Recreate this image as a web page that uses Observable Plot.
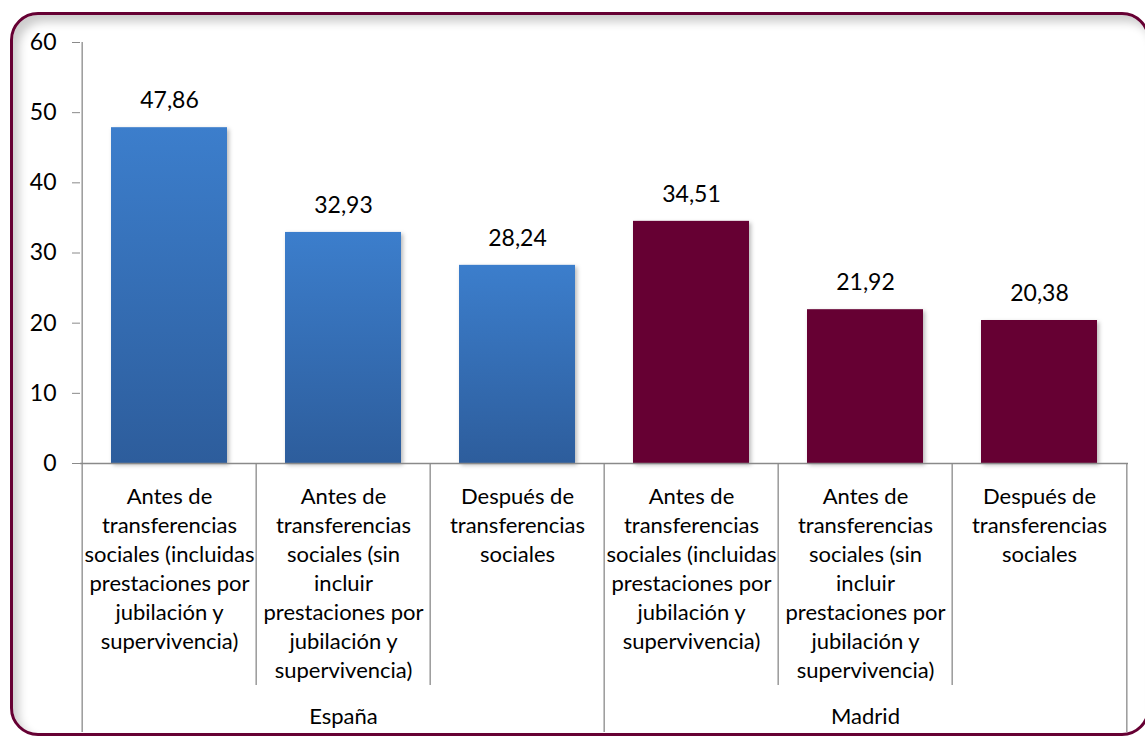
<!DOCTYPE html>
<html>
<head>
<meta charset="utf-8">
<script src="https://cdn.jsdelivr.net/npm/d3@7"></script>
<script src="https://cdn.jsdelivr.net/npm/@observablehq/plot@0.6"></script>
<style>
  html, body { margin: 0; padding: 0; background: #fff; }
  body { width: 1145px; height: 736px; overflow: hidden; position: relative; font-family: Lato, sans-serif; }
  #frame { position: absolute; left: 10px; top: 12px; width: 1134px; height: 718px;
           border: 3px solid #660033; border-radius: 28px;
           box-shadow: inset 6px 7px 10px rgba(0,0,0,0.2); }
  #chart { position: absolute; left: 0; top: 0; }
  #chart g[aria-label="bar"] rect { filter: drop-shadow(2px 2px 2px rgba(0,0,0,0.28)); }
</style>
</head>
<body>
<div id="frame"></div>
<div id="chart"></div>
<script>
const groups = ["España", "Madrid"];
const categories = [
  "Antes de\ntransferencias\nsociales (incluidas\nprestaciones por\njubilación y\nsupervivencia)",
  "Antes de\ntransferencias\nsociales (sin\nincluir\nprestaciones por\njubilación y\nsupervivencia)",
  "Después de\ntransferencias\nsociales"
];
const valuesEspana = [47.86, 32.93, 28.24];
const valuesMadrid = [34.51, 21.92, 20.38];
const yTicks = [0, 10, 20, 30, 40, 50, 60];

const seriesValues = {"España": valuesEspana, "Madrid": valuesMadrid};
const rows = groups.flatMap(g => categories.map((c, i) => ({
  group: g, category: c, index: i, key: g + "·" + i, value: seriesValues[g][i]
})));
const keys = rows.map(d => d.key);

const W = 1145, H = 736, mL = 80, mR = 17, mT = 42, mB = 273;
const step = (W - mL - mR) / keys.length;
const fmt = v => v.toFixed(2).replace(".", ",");

const defs = () => {
  const d = d3.create("svg:defs");
  const g = d.append("linearGradient").attr("id", "blueGrad")
    .attr("x1", 0).attr("y1", 0).attr("x2", 0).attr("y2", 1);
  g.append("stop").attr("offset", "0%").attr("stop-color", "#3C7ECC");
  g.append("stop").attr("offset", "100%").attr("stop-color", "#2D5D9C");
  return d.node();
};

const gray = "#8a8a8a";
const innerBounds = rows.filter(d => d.index > 0);
const groupBoundsLeft = rows.filter(d => d.index === 0);
const groupBoundRight = rows.slice(-1);
const groupMid = rows.filter(d => d.index === 1);

const chart = Plot.plot({
  width: W, height: H,
  marginLeft: mL, marginRight: mR, marginTop: mT, marginBottom: mB,
  x: {domain: keys, padding: 0, axis: null},
  y: {domain: [0, 60], axis: null},
  style: {fontFamily: "Lato, sans-serif", background: "transparent", overflow: "visible", color: "#000"},
  marks: [
    defs,
    Plot.barY(rows.filter(d => d.group === "España"), {x: "key", y: "value", fill: "url(#blueGrad)", insetLeft: 29, insetRight: 29}),
    Plot.barY(rows.filter(d => d.group === "Madrid"), {x: "key", y: "value", fill: "#660033", insetLeft: 29, insetRight: 29}),
    Plot.axisY({ticks: yTicks, tickSize: 8, tickPadding: 16, fontSize: 23, stroke: gray, fill: "#000", label: null, tickFormat: d => String(d)}),
    Plot.ruleY([0], {stroke: gray, strokeWidth: 1.3}),
    Plot.ruleX(groupBoundsLeft.slice(0, 1), {x: "key", dx: -step / 2, y1: 60, y2: 0, stroke: gray, strokeWidth: 1.3}),
    Plot.ruleX(innerBounds, {x: "key", dx: -step / 2, y1: 0, y2: 0, insetBottom: -222, stroke: gray, strokeWidth: 1.3}),
    Plot.ruleX(groupBoundsLeft, {x: "key", dx: -step / 2, y1: 0, y2: 0, insetBottom: -269, stroke: gray, strokeWidth: 1.3}),
    Plot.ruleX(groupBoundRight, {x: "key", dx: step / 2, y1: 0, y2: 0, insetBottom: -269, stroke: gray, strokeWidth: 1.3}),
    Plot.text(rows, {x: "key", y: "value", text: d => fmt(d.value), dy: -27, fontSize: 23, fill: "#000"}),
    Plot.text(rows, {x: "key", y: () => 0, text: "category", lineAnchor: "top", dy: 20, fontSize: 22, lineHeight: 1.32, fill: "#000"}),
    Plot.text(groupMid, {x: "key", y: () => 0, text: "group", dy: 253, fontSize: 22, fill: "#000"})
  ]
});
document.getElementById("chart").appendChild(chart);
</script>
</body>
</html>
